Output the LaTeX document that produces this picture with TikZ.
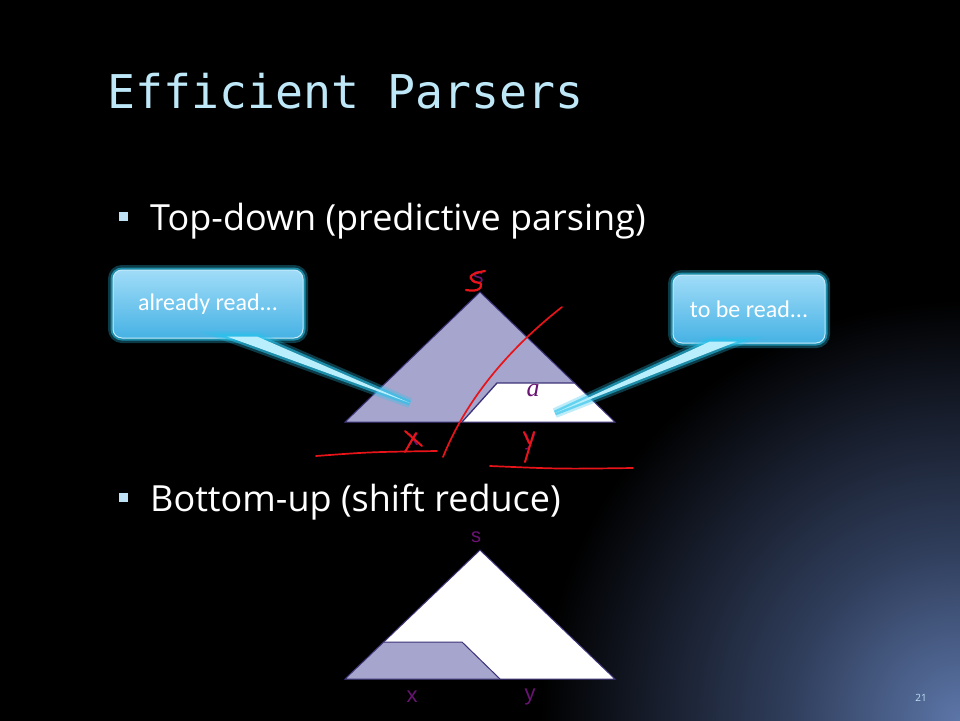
\documentclass[tikz,border=0pt]{standalone}
\usepackage{fontspec}
\setmainfont{Open Sans}
\newfontfamily\titlefont{DejaVu Sans Mono}
\newfontfamily\callfont{Carlito}
\newfontfamily\arialfont{Liberation Sans}
\newfontfamily\timesfont{Liberation Serif}
\usetikzlibrary{calc}
\definecolor{lav}{RGB}{165,165,205}
\definecolor{treeline}{RGB}{60,50,120}
\definecolor{purp}{RGB}{105,20,115}
\definecolor{redink}{RGB}{232,20,25}
\definecolor{titlecol}{RGB}{190,232,248}
\definecolor{bulcol}{RGB}{190,225,245}
\definecolor{calltop}{RGB}{160,220,248}
\definecolor{callbot}{RGB}{70,178,228}
\definecolor{glowc}{RGB}{40,195,235}
\definecolor{wedgec}{RGB}{185,238,252}
\definecolor{bgA}{RGB}{92,118,168}
\definecolor{bgB}{RGB}{48,62,92}
\definecolor{bgC}{RGB}{22,28,42}
\pgfdeclareradialshading{cornerglow}{\pgfpoint{0bp}{0bp}}{color(0bp)=(bgA); color(3.55bp)=(bgB); color(6.45bp)=(bgC); color(8.75bp)=(black); color(50bp)=(black)}
\tikzset{
  bullettext/.style={anchor=base west, text=white, font=\fontsize{36}{38}\selectfont, inner sep=0},
  bulletsq/.style={fill=bulcol, minimum size=9, inner sep=0},
  callout/.style={rounded corners=9pt, top color=calltop, bottom color=callbot,
    draw=calltop!60!white, line width=1,
    preaction={draw=glowc, line width=10, opacity=0.3},
    preaction={draw=glowc, line width=5, opacity=0.6},
    text=white, font=\callfont\fontsize{24}{26}\selectfont, inner sep=0},
  wedge/.style={fill=wedgec, line join=round,
    preaction={draw=glowc, line width=10, opacity=0.3},
    preaction={draw=glowc, line width=5, opacity=0.6}},
  treeedge/.style={draw=treeline, line width=1},
  lbl/.style={text=purp, font=\arialfont\fontsize{22}{24}\selectfont, inner sep=0},
  redpen/.style={draw=redink, line width=1.7, line cap=round, line join=round},
}
\begin{document}
\begin{tikzpicture}[x=1pt,y=-1pt]
\useasboundingbox (0,0) rectangle (960,720);
% background
\fill[black] (0,0) rectangle (960,720);
\begin{scope}
\clip (0,0) rectangle (960,720);
\shade[shading=cornerglow] (-240,-480) rectangle (2160,1920);
\end{scope}
% title
\node[anchor=base west, inner sep=0, text=titlecol, font=\titlefont\fontsize{46.5}{48}\selectfont] (title) at (107,108) {Efficient Parsers};
% bullets
\node[bulletsq] (b1) at (123,216) {};
\node[bullettext] (t1) at (150,230) {Top-down (predictive parsing)};
\node[bulletsq] (b2) at (123,497) {};
\node[bullettext] (t2) at (150,511) {Bottom-up (shift reduce)};
% top tree
\coordinate (tA) at (480,292);
\coordinate (tL) at (345,422);
\coordinate (tR) at (615,422);
\coordinate (tq1) at (462,422);
\coordinate (tq2) at (497,383);
\coordinate (tq3) at (574.5,383);
\fill[lav] (tL) -- (tA) -- (tR) -- cycle;
\fill[white] (tq1) -- (tq2) -- (tq3) -- (tR) -- cycle;
\draw[treeedge] (tL) -- (tA) -- (tR) -- cycle;
\draw[treeedge, line width=1.3] (tq1) -- (tq2) -- (tq3);
\node[text=purp, inner sep=0, font=\timesfont\itshape\fontsize{26}{26}\selectfont] (ta) at (533,391) {a};
\node[lbl] (ts) at (478,278) {s};
\node[lbl] (tx) at (413,440) {x};
\node[lbl] (ty) at (530,442) {y};
% red ink
\draw[redpen, line width=2.2] plot[smooth, tension=0.8] coordinates {(485,271) (472,275) (473,281) (481,284) (477,290) (466,290)};
\draw[redpen] (562,307) .. controls (520,340) and (470,390) .. (443,457);
\draw[redpen] (316,456) .. controls (370,452) .. (437,451);
\draw[redpen] (490,466) .. controls (560,469) .. (633,468);
\draw[redpen, line width=2] (405,431) -- (422,446);
\draw[redpen, line width=2] (416,433) -- (405,452);
\draw[redpen, line width=2] (524,432) -- (529,443);
\draw[redpen, line width=2] (534,432) -- (525,462);
% bottom tree
\coordinate (bA) at (480,550);
\coordinate (bL) at (345,679);
\coordinate (bR) at (615,679);
\coordinate (bq1) at (384,642);
\coordinate (bq2) at (462,642);
\coordinate (bq3) at (500,679);
\fill[white] (bL) -- (bA) -- (bR) -- cycle;
\fill[lav] (bL) -- (bq1) -- (bq2) -- (bq3) -- cycle;
\draw[treeedge] (bL) -- (bA) -- (bR) -- cycle;
\draw[treeedge] (bq1) -- (bq2) -- (bq3);
\node[lbl, font=\arialfont\fontsize{20}{22}\selectfont] (bs) at (476,537) {s};
\node[lbl] (bx) at (412,697) {x};
\node[lbl] (by) at (530,697) {y};
% callouts
\node[callout, minimum width=190, minimum height=68] (c1) at (208,304) {already read...};
\node[callout, minimum width=152, minimum height=68] (c2) at (749,309) {to be read...};
\coordinate (p1) at (410,403);
\coordinate (p2) at (555,413);
\path[wedge] ($(c1.south)+(19,-2)$) -- (p1) -- ($(c1.south)+(49,-2)$) -- cycle;
\path[wedge] ($(c2.south)+(-39,-2)$) -- (p2) -- ($(c2.south)+(-12,-2)$) -- cycle;
% page number
\node[text=bulcol, inner sep=0, font=\fontsize{10}{10}\selectfont] (pg) at (921,698) {21};
\end{tikzpicture}
\end{document}
